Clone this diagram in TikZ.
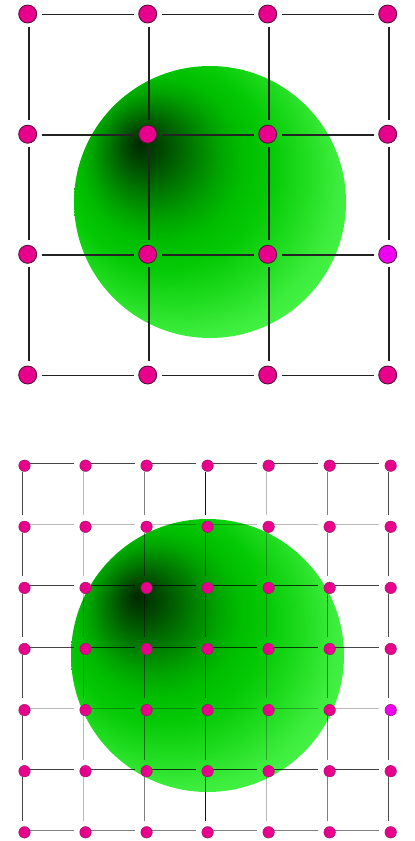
\documentclass[tikz,border=0pt]{standalone}
\definecolor{pinkfill}{RGB}{232,0,140}
\definecolor{magfill}{RGB}{240,0,240}
\definecolor{nodeline}{RGB}{85,20,60}
\definecolor{nodelineb}{RGB}{150,30,100}
\definecolor{tline}{RGB}{35,35,35}
\pgfdeclareradialshading{greenball}{\pgfqpoint{-13bp}{11bp}}{%
  rgb(0bp)=(0,0.16,0);
  rgb(3bp)=(0,0.27,0);
  rgb(6bp)=(0,0.40,0);
  rgb(9bp)=(0,0.53,0);
  rgb(12bp)=(0,0.65,0);
  rgb(15bp)=(0,0.74,0);
  rgb(19bp)=(0.02,0.79,0.02);
  rgb(24bp)=(0.12,0.86,0.12);
  rgb(29bp)=(0.24,0.93,0.24);
  rgb(33bp)=(0.28,0.96,0.28);
  rgb(50bp)=(0.28,0.96,0.28)}
\tikzset{
  tnode/.style={circle, draw=nodeline, line width=0.9pt, minimum size=18pt, inner sep=0pt, outer sep=0pt},
  bnode/.style={circle, draw=nodelineb, line width=0.5pt, minimum size=11.5pt, inner sep=0pt, outer sep=0pt},
  tedge/.style={draw=tline, line width=1.7pt, shorten <=13pt, shorten >=14.5pt},
  bedge/.style={draw=black, line width=1pt, shorten <=5.8pt, shorten >=11.7pt},
}
\begin{document}
\begin{tikzpicture}[x=1pt,y=-1pt]
\useasboundingbox (0,0) rectangle (415,841);
% green blobs
\shade[shading=greenball] (210,202) circle[radius=136];
\shade[shading=greenball] (207.5,655.5) circle[radius=136.5];
% ---------- top grid ----------
\foreach \r/\y in {0/14,1/134.2,2/254.3,3/375}{
  \foreach \c/\x in {0/27.7,1/147.7,2/267.7,3/387.7}{
    \coordinate (t\r\c) at (\x,\y);
  }
}
\foreach \r in {0,...,3}{
  \foreach \c/\n in {0/1,1/2,2/3}{
    \path[tedge] ([xshift=0.8pt,yshift=-0.6pt]t\r\c) -- ([xshift=0.8pt,yshift=-0.6pt]t\r\n);
    \path[tedge] ([xshift=1.2pt]t\c\r) -- ([xshift=1.2pt]t\n\r);
  }
}
\foreach \r in {0,...,3}{
  \foreach \c in {0,...,3}{
    \def\tf{pinkfill}
    \ifnum\r\c=23 \def\tf{magfill}\fi
    \node[tnode, fill=\tf] (tn\r\c) at (t\r\c) {};
  }
}
% ---------- bottom grid ----------
\foreach \r in {0,...,6}{
  \foreach \c in {0,...,6}{
    \pgfmathsetmacro\bx{24.5+61.03*\c}
    \pgfmathsetmacro\by{465.7+61.1*\r}
    \coordinate (b\r\c) at (\bx,\by);
  }
}
% horizontal edges: opacity per row
\foreach \r/\op in {0/0.72,1/0.27,2/0.75,3/0.72,4/0.27,5/0.75,6/0.5}{
  \foreach \c/\n in {0/1,1/2,2/3,3/4,4/5,5/6}{
    \path[bedge, draw opacity=\op] ([yshift=2pt]b\r\c) -- ([yshift=2pt]b\r\n);
  }
}
% vertical edges: opacity per column
\foreach \c/\op in {0/0.72,1/0.27,2/0.5,3/0.92,4/0.27,5/0.5,6/0.7}{
  \foreach \r/\n in {0/1,1/2,2/3,3/4,4/5,5/6}{
    \path[bedge, draw opacity=\op] ([xshift=-2pt]b\r\c) -- ([xshift=-2pt]b\n\c);
  }
}
\foreach \r in {0,...,6}{
  \foreach \c in {0,...,6}{
    \def\tf{pinkfill}
    \ifnum\r\c=46 \def\tf{magfill}\fi
    \node[bnode, fill=\tf] (bn\r\c) at (b\r\c) {};
  }
}
\end{tikzpicture}
\end{document}
